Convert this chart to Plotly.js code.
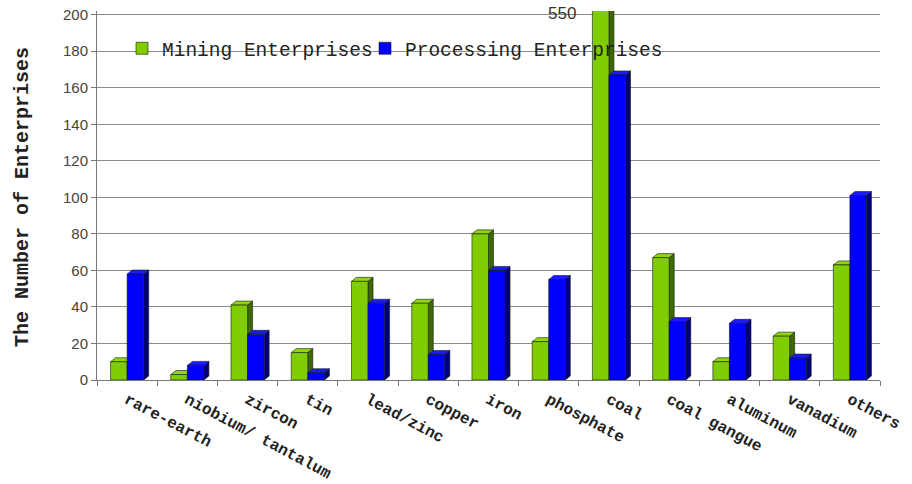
<!DOCTYPE html>
<html>
<head>
<meta charset="utf-8">
<script src="https://cdn.plot.ly/plotly-3.0.1.min.js"></script>
<style>
  html, body { margin: 0; padding: 0; background: #fff; }
  #chart { width: 912px; height: 484px; }
</style>
</head>
<body>
<div id="chart"></div>
<script>
// Enterprises by mineral type
const categories = ['rare-earth', 'niobium/ tantalum', 'zircon', 'tin', 'lead/zinc', 'copper',
  'iron', 'phosphate', 'coal', 'coal gangue', 'aluminum', 'vanadium', 'others'];
const mining = [10, 3, 41, 15, 54, 42, 80, 21, 550, 67, 10, 24, 63];
const processing = [58, 8, 25, 4, 42, 14, 60, 55, 167, 32, 31, 12, 101];
const yTicks = [0, 20, 40, 60, 80, 100, 120, 140, 160, 180, 200];
const coalLabel = '550';

const idx = categories.map((_, i) => i);

// plot geometry
const W = 912, H = 484;
const margin = { l: 97, r: 32, t: 11, b: 104 };
const yMax = 202;
const plotW = W - margin.l - margin.r;
const plotH = H - margin.t - margin.b;
const pxX = (categories.length) / plotW;     // x units per pixel
const pxY = yMax / plotH;                     // y units per pixel
const bargap = 0.45;
const bw = (1 - bargap) / 2;
const dx = 5 * pxX, dy = 4 * pxY;             // 3-D depth of each bar

// pixel -> paper helpers
const paperX = px => (px - margin.l) / plotW;
const paperY = py => (H - margin.b - py) / plotH;

const greenFront = '#7fcc00', greenSide = '#3d6a00', greenTop = '#8fd60f';
const blueFront = '#0000ff', blueSide = '#00007a', blueTop = '#1a1aff';

// side and top faces of the 3-D bars, built from the same values as the bars
function faces(values, leftOff, sideColor, topColor) {
  const out = [];
  values.forEach((v, i) => {
    const top = Math.min(v, yMax);
    const x0 = i + leftOff, x1 = x0 + bw;
    out.push({
      type: 'path', xref: 'x', yref: 'y', layer: 'between',
      path: `M${x1},0 L${x1 + dx},${dy} L${x1 + dx},${top + dy} L${x1},${top} Z`,
      fillcolor: sideColor, line: { color: '#1a1a1a', width: 0.6 }
    });
    out.push({
      type: 'path', xref: 'x', yref: 'y', layer: 'between',
      path: `M${x0},${top} L${x0 + dx},${top + dy} L${x1 + dx},${top + dy} L${x1},${top} Z`,
      fillcolor: topColor, line: { color: '#1a1a1a', width: 0.6 }
    });
  });
  return out;
}

// white backdrop that hides the grid line behind the legend but stays under the bars
const legendBackdrop = {
  type: 'rect', xref: 'paper', yref: 'paper', layer: 'between',
  x0: paperX(128), x1: paperX(672), y0: paperY(60), y1: paperY(38),
  fillcolor: '#fff', line: { width: 0 }
};

const shapes = [legendBackdrop].concat(
  faces(mining, -bw, greenSide, greenTop),
  faces(processing, 0, blueSide, blueTop)
);

const traces = [
  {
    type: 'bar', name: 'Mining Enterprises', x: idx, y: mining,
    marker: { color: greenFront, line: { color: '#1a1a1a', width: 0.6 } },
    hoverinfo: 'x+y', legend: 'legend'
  },
  {
    type: 'bar', name: 'Processing Enterprises', x: idx, y: processing,
    marker: { color: blueFront, line: { color: '#1a1a1a', width: 0.6 } },
    hoverinfo: 'x+y', legend: 'legend2'
  }
];

const legendFont = { family: 'Liberation Mono, monospace', size: 19.5, color: '#222' };
const legendBase = {
  orientation: 'h', y: 0.951, xanchor: 'left', yanchor: 'top',
  bgcolor: 'rgba(0,0,0,0)', borderwidth: 0, itemwidth: 30, font: legendFont
};

const layout = {
  width: W, height: H,
  margin: margin,
  paper_bgcolor: '#fff', plot_bgcolor: '#fff',
  barmode: 'group', bargap: bargap, bargroupgap: 0,
  showlegend: true,
  legend: Object.assign({}, legendBase, { x: paperX(122) }),
  legend2: Object.assign({}, legendBase, { x: paperX(365) }),
  xaxis: {
    range: [-0.5, categories.length - 0.5],
    tickvals: idx, ticktext: categories,
    tickangle: 28, ticks: '', ticklabelstandoff: 3,
    tickfont: { family: 'Liberation Mono, monospace', size: 16, color: '#222', weight: 'bold' },
    showline: true, linecolor: '#777', linewidth: 1, mirror: false,
    showgrid: false, zeroline: false,
    minor: { tick0: 0.5, dtick: 1, ticks: 'outside', ticklen: 5, tickcolor: '#777', showgrid: false }
  },
  yaxis: {
    range: [0, yMax], tickvals: yTicks,
    ticks: 'outside', ticklen: 5, tickcolor: '#777',
    tickfont: { family: 'Liberation Sans, Arial, sans-serif', size: 15, color: '#444' },
    showline: true, linecolor: '#777', linewidth: 1,
    showgrid: true, gridcolor: '#8a8a8a', gridwidth: 1, zeroline: false
  },
  shapes: shapes,
  annotations: [
    {
      xref: 'paper', yref: 'paper', x: paperX(22), y: paperY(197),
      text: 'The Number of Enterprises', textangle: -90, showarrow: false,
      xanchor: 'center', yanchor: 'middle',
      font: { family: 'Liberation Mono, monospace', size: 20, color: '#222', weight: 'bold' }
    },
    {
      xref: 'x', yref: 'y', x: 8 - bw, y: 200, text: coalLabel, showarrow: false,
      xanchor: 'right', yanchor: 'middle', xshift: -14, yshift: 1,
      font: { family: 'Liberation Sans, Arial, sans-serif', size: 17, color: '#333' }
    }
  ]
};

Plotly.newPlot('chart', traces, layout, { displayModeBar: false, staticPlot: true });
</script>
</body>
</html>
